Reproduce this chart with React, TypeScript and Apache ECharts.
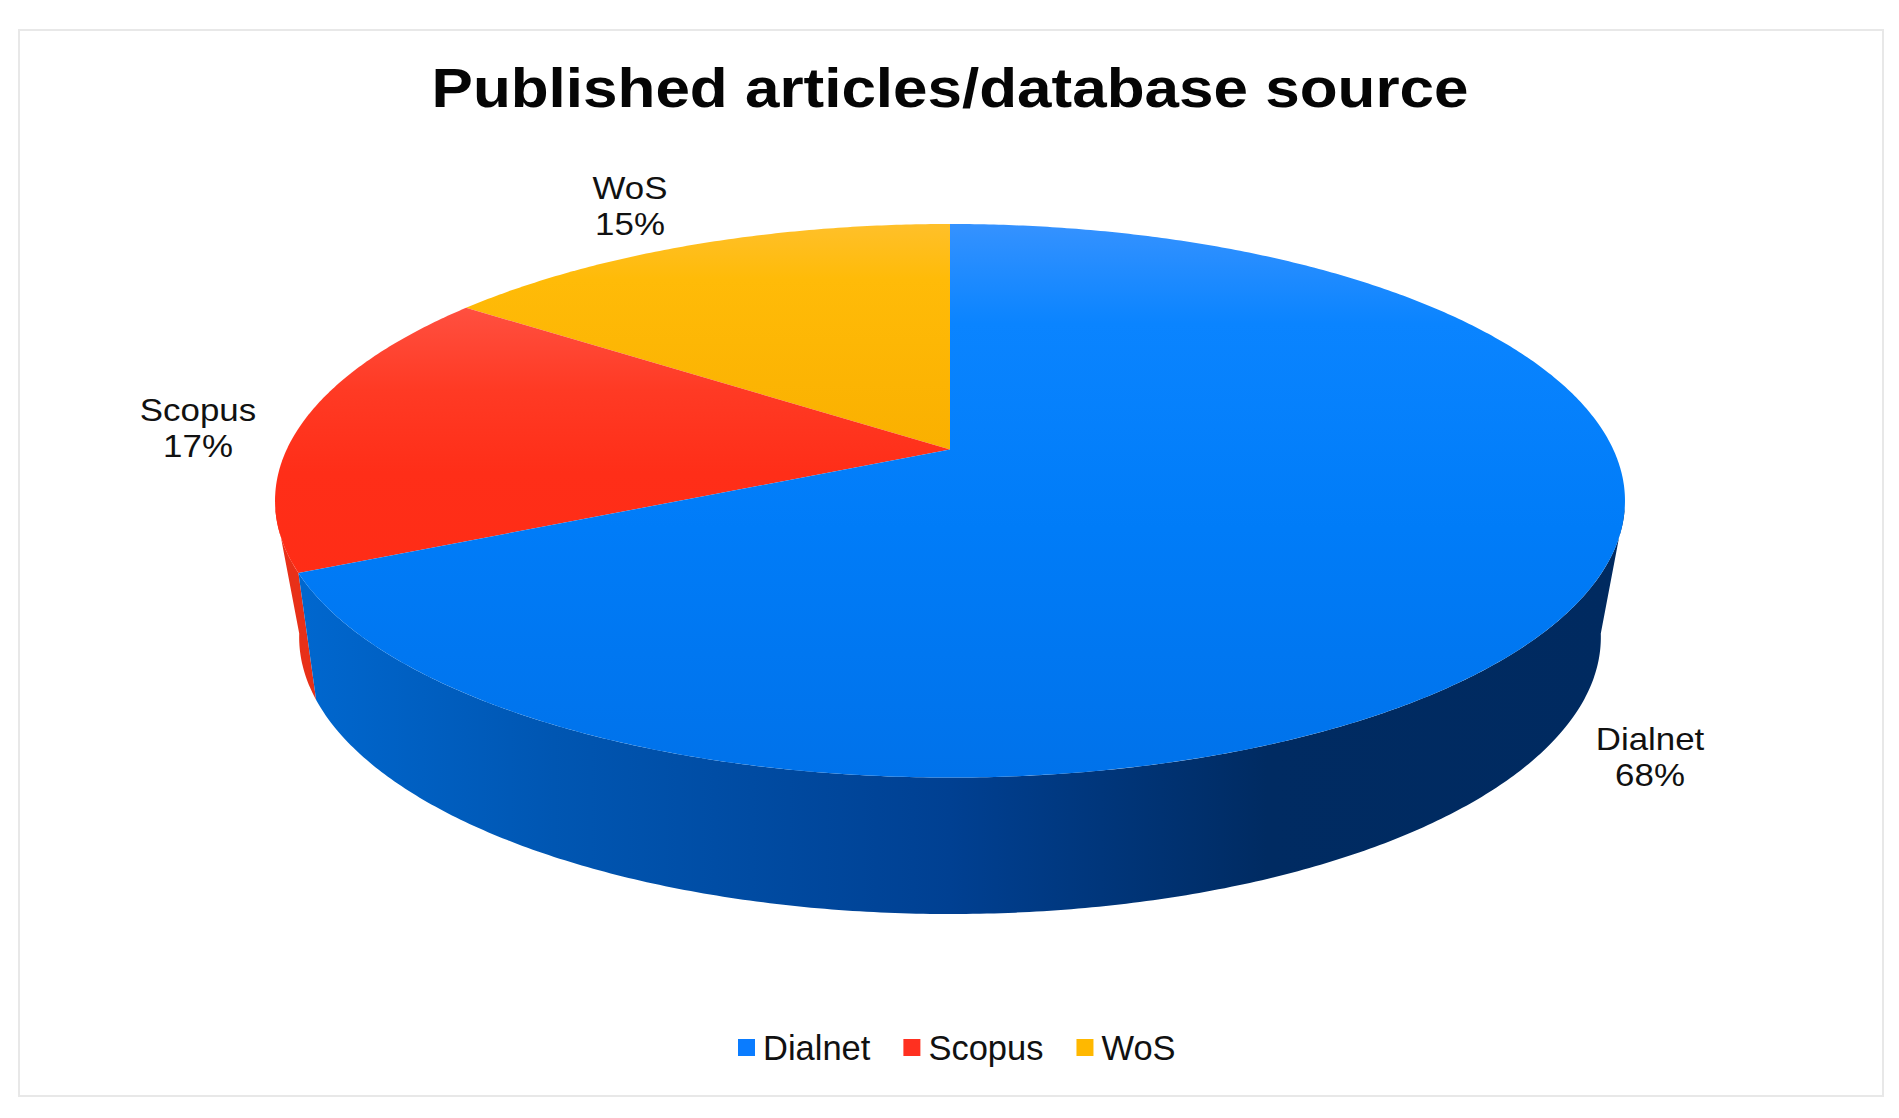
import React, { useEffect, useRef } from "react";
import * as echarts from "echarts";

const titleText = "Published articles/database source";
const categories = ["Dialnet", "Scopus", "WoS"];
const shares = [68, 17, 15];
const legendColors = ["#0a7cff", "#ff3020", "#ffb800"];

const topStops = [
  [[0, "#3592ff"], [0.18, "#0a84ff"], [0.55, "#007cf8"], [1, "#0072ea"]],
  [[0, "#ff6252"], [0.15, "#ff5040"], [0.3, "#ff3a24"], [0.45, "#ff2e18"], [1, "#ff2a12"]],
  [[0, "#ffc02a"], [0.1, "#ffbb08"], [0.4, "#fab000"], [1, "#f5ae00"]],
];
const wallStops = [
  [[0, "#0068d0"], [0.2, "#0056b2"], [0.5, "#004092"], [0.74, "#002b62"], [1, "#002a60"]],
  [[0, "#e83018"], [1, "#e02a10"]],
  [[0, "#c08a00"], [1, "#c08a00"]],
];
const labelAnchors = [[1650, 757], [198, 428], [630, 206]];

const CX = 950;
const TOP_FACE = { y0: 449.5, a: 267.3, b: -0.1852, c: 663.3 };
const BOTTOM_FACE = { y0: 576.2, a: 263.5, b: -0.22, c: 634.9 };
const TOP_Y = 224, BOTTOM_Y = 777.5;
const WALL_FROM = 102, WALL_TO = 258;

const project = (deg: number, f: typeof TOP_FACE) => {
  const t = (deg * Math.PI) / 180;
  const u = Math.sin(t), v = -Math.cos(t), w = 1 + f.b * v;
  return [CX + (f.c * u) / w, f.y0 + (f.a * v) / w];
};
const arc = (a: number, b: number, f: typeof TOP_FACE) => {
  const pts: number[][] = [];
  const n = Math.max(2, Math.ceil((b - a) * 2));
  for (let i = 0; i <= n; i++) pts.push(project(a + ((b - a) * i) / n, f));
  return pts;
};

const total = shares.reduce((s, x) => s + x, 0);
const startOf = (i: number) => (shares.slice(0, i).reduce((s, x) => s + x, 0) / total) * 360;
const toStops = (list: any[]) => list.map(([offset, color]) => ({ offset, color }));

const makeSeries = (name: string, i: number) => ({
  type: "custom",
  name,
  coordinateSystem: "none",
  z: 10 - i,
  itemStyle: { color: legendColors[i] },
  data: [[shares[i]]],
  silent: true,
  renderItem: (_p: unknown, api: any) => {
    const a = startOf(i);
    const b = a + (api.value(0) / total) * 360;
    const children: any[] = [];
    const wa = Math.max(a, WALL_FROM), wb = Math.min(b, WALL_TO);
    if (wb > wa) {
      children.push({
        type: "polygon",
        shape: { points: [...arc(wa, wb, TOP_FACE), ...arc(wa, wb, BOTTOM_FACE).reverse()] },
        style: {
          fill: new echarts.graphic.LinearGradient(290, 0, 1610, 0, toStops(wallStops[i]) as any, true),
        },
      });
    }
    children.push({
      type: "polygon",
      shape: { points: [[CX, TOP_FACE.y0], ...arc(a, b, TOP_FACE)] },
      style: {
        fill: new echarts.graphic.LinearGradient(0, TOP_Y, 0, BOTTOM_Y, toStops(topStops[i]) as any, true),
      },
    });
    children.push({
      type: "text",
      x: labelAnchors[i][0],
      y: labelAnchors[i][1],
      scaleX: 1.09,
      z2: 50,
      style: {
        text: `${name}\n${api.value(0)}%`,
        align: "center",
        verticalAlign: "middle",
        fontFamily: "Liberation Sans",
        fontSize: 32,
        lineHeight: 36,
        fill: "#111111",
      },
    });
    return { type: "group", children };
  },
});

export default function App() {
  const ref = useRef<HTMLDivElement>(null);
  useEffect(() => {
    document.body.style.margin = "0";
    document.body.style.overflow = "hidden";
    const chart = echarts.init(ref.current!, undefined, { renderer: "svg" });
    chart.setOption({
      animation: false,
      backgroundColor: "#ffffff",
      legend: {
        data: categories,
        left: 738,
        top: 1030,
        padding: 0,
        icon: "rect",
        itemWidth: 17,
        itemHeight: 17,
        itemGap: 33,
        selectedMode: false,
        textStyle: { fontFamily: "Liberation Sans", fontSize: 34.5, color: "#111111", padding: [0, 0, 0, 3] },
      },
      graphic: [
        {
          type: "rect",
          silent: true,
          shape: { x: 19, y: 30, width: 1864, height: 1066 },
          style: { fill: "none", stroke: "#e8e8e8", lineWidth: 2 },
        },
        {
          type: "text",
          x: 950,
          y: 88,
          scaleX: 1.107,
          style: {
            text: titleText,
            align: "center",
            verticalAlign: "middle",
            fontFamily: "Liberation Sans",
            fontWeight: "bold",
            fontSize: 56,
            fill: "#050505",
          },
        },
      ],
      series: categories.map(makeSeries),
    });
    return () => chart.dispose();
  }, []);
  return <div ref={ref} style={{ position: "absolute", left: 0, top: 0, width: 1899, height: 1118 }} />;
}
